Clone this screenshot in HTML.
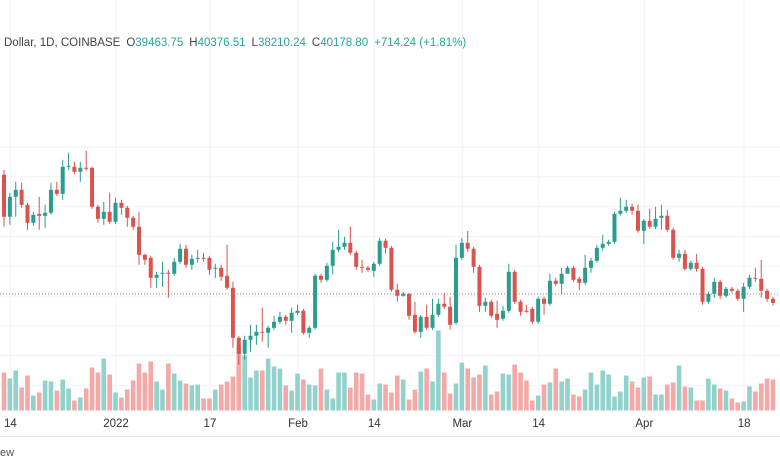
<!DOCTYPE html>
<html><head><meta charset="utf-8"><style>
body{margin:0;background:#fff;font-family:"Liberation Sans",sans-serif;}
#wrap{position:relative;width:780px;height:470px;overflow:hidden;background:#fff}
svg{position:absolute;left:0;top:0}
</style></head><body>
<div id="wrap">
<svg id="chart" width="780" height="470">
 <g id="grid"></g>
 <g id="vol"></g>
 <line x1="0" x2="780" y1="294" y2="294" stroke="#8a8f99" stroke-width="1" stroke-dasharray="1,2"/>
 <g id="candles"></g>
 <g id="xaxis"></g>
 <line x1="0" x2="780" y1="436.5" y2="436.5" stroke="#e0e3eb" stroke-width="1"/>
 <text x="0" y="456" font-size="11" fill="#555">ew</text>
 <text y="46" font-size="11.5"><tspan x="4" fill="#444">Dollar, 1D, COINBASE</tspan><tspan dx="6" fill="#444">O</tspan><tspan fill="#26a69a">39463.75</tspan><tspan dx="6" fill="#444">H</tspan><tspan fill="#26a69a">40376.51</tspan><tspan dx="6" fill="#444">L</tspan><tspan fill="#26a69a">38210.24</tspan><tspan dx="6" fill="#444">C</tspan><tspan fill="#26a69a">40178.80</tspan><tspan dx="6" fill="#26a69a">+714.24 (+1.81%)</tspan></text>
</svg>
</div>
<script>
const opens=[52100,47900,49900,50600,49100,47300,48200,48000,48300,50600,50200,52900,52900,52400,52800,52800,48900,47700,48400,47400,49300,48800,47800,46900,44100,43800,41800,42200,42300,42200,43400,44700,43100,43700,43800,43800,42700,42800,42000,40800,35800,34200,35600,36000,36400,36300,36800,37400,37900,37500,38300,38500,36300,36800,42000,41600,43000,44600,44900,45300,44300,42900,42800,42500,43200,45500,44800,40600,40000,40200,38100,36400,37900,36800,38100,39200,38900,37300,43800,45300,44700,42900,39000,39400,38200,37700,38500,42400,39400,38500,38700,37400,39700,39200,41500,41200,42200,42800,41700,41300,42800,43500,44800,45200,45400,48200,48500,48900,48500,46500,47500,46900,47800,48000,46600,43800,44200,42700,43300,42700,39400,40200,41400,40000,40700,40500,39700,40900,41800,41700,40500,39700];
const highs=[52600,50300,51400,51300,49300,48400,49900,49100,51300,51400,53600,54300,53400,53400,54500,52900,49100,49400,50300,49800,49600,49000,48000,48400,44200,44000,42400,43400,42600,43800,45200,45100,44100,44600,44300,44000,43200,43100,45100,41400,36000,36000,37100,37100,38800,37000,38000,38400,38100,38800,39100,38700,37000,42200,42200,43300,45400,46600,45900,46900,44500,43600,43000,43400,45800,45700,45000,41200,40400,40300,39400,38100,39100,39700,39700,40300,39900,45100,45800,46500,44900,43100,39800,39600,39500,39000,43200,42600,39600,39100,38900,39900,39900,42200,41800,42800,43000,43000,41900,44100,43800,45100,46100,45600,48400,49800,49600,49200,49100,47700,48700,48900,49100,48600,46800,44600,44600,43500,44200,42900,40400,41800,41600,40900,40900,40700,41300,42100,42800,43600,40700,39900];
const lows=[46900,47100,47900,48800,46600,47000,46600,46800,48100,50000,49600,52600,52200,51400,52500,48700,47300,47100,47200,47200,48100,46900,46600,43100,43100,40800,40800,40900,39800,42000,43200,42800,42600,43300,43400,42100,41800,41500,40600,34800,33100,33600,34400,35100,35400,34800,36600,37200,37100,36300,38100,36100,35800,36600,41300,41400,42100,44400,44600,44100,42600,42300,42400,41900,43000,44200,40400,39400,39900,37600,36200,35800,36600,36600,37900,38700,36600,37100,43600,44400,42300,38400,38400,37800,36800,37500,38300,39200,38000,38300,37200,37200,38100,39000,41000,40200,42600,41400,40600,41100,42300,43300,44500,45000,45200,48000,48300,48100,46300,45200,46700,46700,46600,46400,43600,43400,42500,42500,42400,39100,39200,39800,39700,39800,40300,39500,38400,40700,41400,39800,39400,39000];
const closes=[47900,49900,50600,49100,47300,48100,48000,48300,50600,50200,52900,53000,52400,52800,52700,48900,47700,48400,47400,49300,48800,47800,46900,44100,43600,41800,42100,42300,42200,43400,44700,43100,43700,43800,43700,42600,42800,41900,40800,35800,34200,35600,36000,36400,36300,36800,37400,37900,37500,38300,38500,36300,36800,42000,41600,43000,44600,44900,45300,44300,42900,42800,42600,43200,45500,44800,40600,40000,40200,38000,36400,37900,36800,38100,39200,38900,37100,43800,45300,44700,42900,39000,39400,38000,37600,38500,42400,39400,38400,38400,37400,39700,39200,41500,41200,42200,42800,41600,41300,42800,43500,44800,45200,45400,48200,48500,48900,48500,46500,47500,46900,47700,48000,46600,43800,44200,42700,43300,42700,39400,40200,41400,40000,40700,40500,39700,40900,41800,41700,40500,39700,39300];
const volumes=[38,32,40,23,35,15,18,30,29,20,31,22,10,13,22,43,38,52,36,18,13,21,30,47,38,49,29,21,47,37,30,27,25,26,12,12,21,26,29,34,65,55,33,40,40,52,44,42,25,20,37,31,26,25,42,21,12,38,38,23,38,37,16,11,27,26,18,35,31,11,21,39,42,29,80,38,17,27,48,42,33,36,45,16,19,37,36,46,38,30,10,15,26,28,42,29,32,16,14,21,38,26,40,36,14,19,35,29,23,33,34,16,16,26,28,45,24,23,10,10,32,26,22,20,12,8,9,24,19,27,32,31];
const tickLabels=["14","2022","17","Feb","14","Mar","14","Apr","18"];
const tickIndex=[1,19,35,50,63,78,91,109,126];

const NS="http://www.w3.org/2000/svg";
const x0=4, step=5.87;
function xPos(i){return x0+i*step;}
const pRef=40178.8, yRef=294, pxPerDollar=0.01;
function yPrice(p){return yRef-(p-pRef)*pxPerDollar;}
const volBase=410.5, volScale=1;
function yVol(v){return volBase-v*volScale;}
function mk(tag,attrs,parent){const e=document.createElementNS(NS,tag);for(const k in attrs)e.setAttribute(k,attrs[k]);parent.appendChild(e);return e;}

const grid=document.getElementById('grid');
for(let k=0;k<9;k++){
  const y=147+k*29.8;
  const l=mk('line',{x1:0,x2:780,y1:y,y2:y,stroke:'#f0f3fa','stroke-width':1},grid);
  
  
}
const xaxis=document.getElementById('xaxis');
tickLabels.forEach((t,j)=>{
  const x=xPos(tickIndex[j])+0.5;
  const l=mk('line',{x1:x,x2:x,y1:0,y2:412,stroke:'#f0f3fa','stroke-width':1},grid);
  
  
  const tx=mk('text',{x:x,y:427,'font-size':11.5,fill:'#333','text-anchor':'middle'},xaxis);
  tx.textContent=t;
  
  
});

const vol=document.getElementById('vol'), cg=document.getElementById('candles');
closes.forEach((c,i)=>{
  const up=c>=opens[i];
  const x=xPos(i);
  const vt=yVol(volumes[i]);
  const vb=mk('rect',{x:x-2.3,y:vt,width:4.6,height:volBase-vt,fill:up?'#93d2cc':'#f4a9a6'},vol);
  
  
  const col=up?'#2a9d8f':'#d9534f';
  const w=mk('line',{x1:x,x2:x,y1:yPrice(highs[i]),y2:yPrice(lows[i]),stroke:col,'stroke-width':1},cg);
  
  
  const yt=yPrice(Math.max(c,opens[i])), yb=yPrice(Math.min(c,opens[i]));
  const b=mk('rect',{x:x-2,y:yt,width:4,height:Math.max(1,yb-yt),fill:col},cg);
  
  
});
</script>
</body></html>
